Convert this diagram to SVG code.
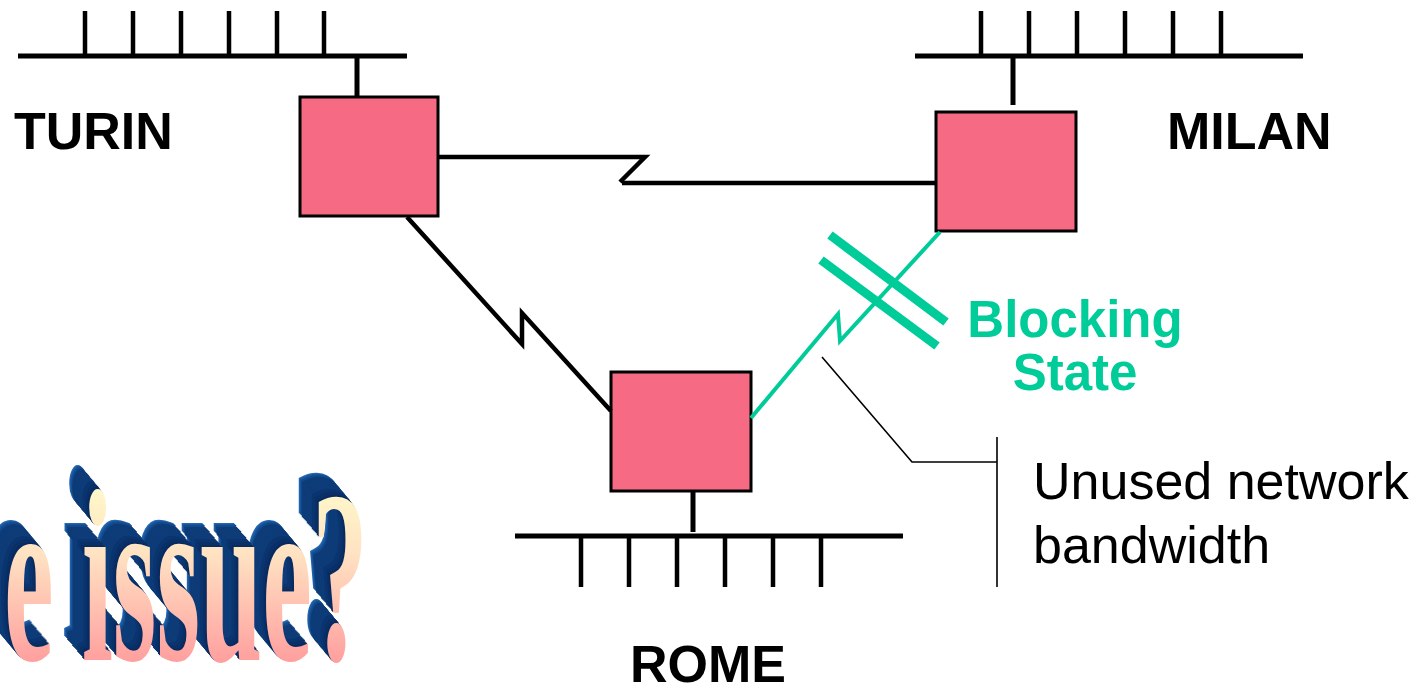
<svg xmlns="http://www.w3.org/2000/svg" xmlns:xlink="http://www.w3.org/1999/xlink" width="1423" height="694" viewBox="0 0 1423 694">
<style>
.bus{stroke:#000;stroke-width:5;fill:none}
.tick{stroke:#000;stroke-width:4.5;fill:none}
.router{fill:#F66A83;stroke:#000;stroke-width:3}
.link{stroke:#000;stroke-width:4.5;fill:none;stroke-linejoin:miter}
.glink{stroke:#00CC99;stroke-width:4;fill:none}
.block{stroke:#00CC99;stroke-width:9;fill:none}
.callout{stroke:#000;stroke-width:1.6;fill:none}
.city{font-family:"Liberation Sans",Arial,sans-serif;font-weight:bold;font-size:52px;fill:#000}
.green{font-family:"Liberation Sans",Arial,sans-serif;font-weight:bold;font-size:51px;fill:#00CC99}
.note{font-family:"Liberation Sans",Tahoma,sans-serif;font-size:52px;fill:#000}
</style>
<defs>
<linearGradient id="waGrad" x1="0" y1="0" x2="0" y2="1">
<stop offset="0.1" stop-color="#FFFFCC"/>
<stop offset="0.42" stop-color="#FFE2C2"/>
<stop offset="0.82" stop-color="#FF9E9E"/>
</linearGradient>
<text id="wa" transform="translate(4,660) scale(1,2.2)" font-family="'Liberation Serif','Times New Roman',serif" font-weight="bold" font-size="112">e issue?</text>
</defs>

<g id="wordart">
<use xlink:href="#wa" fill="#2466B0" transform="translate(-20,-24)"/>
<use xlink:href="#wa" fill="#1A58A0" transform="translate(-19,-22.8)"/>
<use xlink:href="#wa" fill="#124A8E" transform="translate(-18,-21.6)"/>
<use xlink:href="#wa" fill="#0D3C78" transform="translate(-17,-20.4)"/>
<use xlink:href="#wa" fill="#0D3C78" transform="translate(-16,-19.2)"/>
<use xlink:href="#wa" fill="#0D3C78" transform="translate(-15,-18)"/>
<use xlink:href="#wa" fill="#0D3C78" transform="translate(-14,-16.8)"/>
<use xlink:href="#wa" fill="#0D3C78" transform="translate(-13,-15.6)"/>
<use xlink:href="#wa" fill="#0D3C78" transform="translate(-12,-14.4)"/>
<use xlink:href="#wa" fill="#0D3C78" transform="translate(-11,-13.2)"/>
<use xlink:href="#wa" fill="#0D3C78" transform="translate(-10,-12)"/>
<use xlink:href="#wa" fill="#0D3C78" transform="translate(-9,-10.8)"/>
<use xlink:href="#wa" fill="#0D3C78" transform="translate(-8,-9.6)"/>
<use xlink:href="#wa" fill="#0B3570" transform="translate(-7,-8.4)"/>
<use xlink:href="#wa" fill="#0B3570" transform="translate(-6,-7.2)"/>
<use xlink:href="#wa" fill="#0B3570" transform="translate(-5,-6)"/>
<use xlink:href="#wa" fill="#0A3068" transform="translate(-4,-4.8)"/>
<use xlink:href="#wa" fill="#0A3068" transform="translate(-3,-3.6)"/>
<use xlink:href="#wa" fill="#082B60" transform="translate(-2,-2.4)"/>
<use xlink:href="#wa" fill="#082B60" transform="translate(-1,-1.2)"/>
<use xlink:href="#wa" fill="url(#waGrad)"/>
</g>

<g id="turin">
<path class="bus" d="M18,56 H407"/>
<path class="tick" d="M85,11 V56 M133,11 V56 M181,11 V56 M229,11 V56 M277,11 V56 M324,11 V56"/>
<path class="bus" d="M357,56 V97"/>
<rect class="router" x="300" y="97" width="138" height="119"/>
<text class="city" x="14" y="149">TURIN</text>
</g>

<g id="milan">
<path class="bus" d="M915,56 H1303"/>
<path class="tick" d="M981,11 V56 M1029,11 V56 M1077,11 V56 M1125,11 V56 M1173,11 V56 M1221,11 V56"/>
<path class="bus" d="M1013,56 V105"/>
<rect class="router" x="936" y="112" width="140" height="119"/>
<text class="city" x="1167" y="149">MILAN</text>
</g>

<g id="rome">
<rect class="router" x="611" y="372" width="140" height="119"/>
<path class="bus" d="M693,491 V532"/>
<path class="bus" d="M515,536 H903"/>
<path class="tick" d="M581,536 V587 M629,536 V587 M677,536 V587 M725,536 V587 M773,536 V587 M821,536 V587"/>
<text class="city" x="630" y="682">ROME</text>
</g>

<g id="connectors">
<path class="link" d="M438,157 H645 L620,182"/>
<path class="link" d="M622,183 H936"/>
<path class="link" d="M407,217 L522,344 V313 L611,411"/>
<path class="glink" d="M751,418 L838,314 L840,341 L940,232"/>
<path class="block" d="M830,235 L946,322 M821,260 L937,346"/>
<path class="callout" d="M822,357 L912,462 H997 M997,437 V587"/>
</g>

<g id="labels">
<text class="green" x="1075" y="337" text-anchor="middle">Blocking</text>
<text class="green" x="1075" y="390" text-anchor="middle">State</text>
<text class="note" x="1033" y="499">Unused network</text>
<text class="note" x="1033" y="563">bandwidth</text>
</g>
</svg>
